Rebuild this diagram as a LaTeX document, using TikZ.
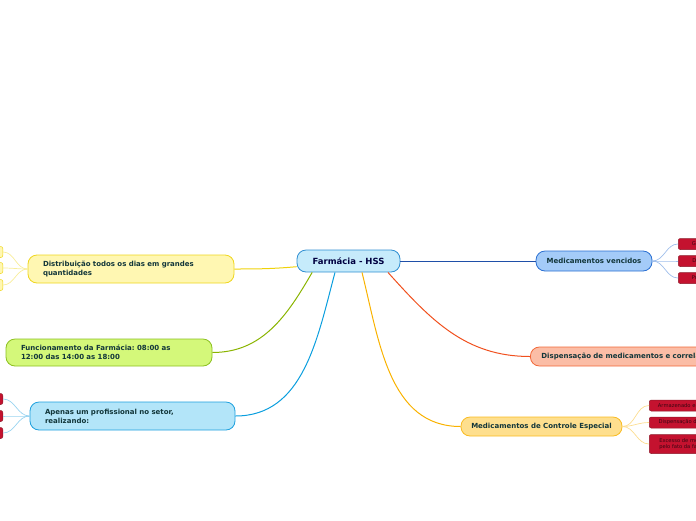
\documentclass[tikz,border=0pt]{standalone}
\usepackage{fontspec}
\setmainfont{DejaVu Sans}
\usetikzlibrary{calc}
\frenchspacing

\definecolor{txtdark}{HTML}{12363A}
\definecolor{leaftxt}{HTML}{3A0612}
\definecolor{leafred}{HTML}{C4122F}
\definecolor{leafedge}{HTML}{8E1A2A}
% topic colours
\definecolor{hssfill}{HTML}{C6EBFB}\definecolor{hssedge}{HTML}{2F8FD2}
\definecolor{vencfill}{HTML}{A4CBF8}\definecolor{vencedge}{HTML}{2A6FD2}\definecolor{vencline}{HTML}{1F4FA8}
\definecolor{dispfill}{HTML}{FBBDA6}\definecolor{dispedge}{HTML}{F2693A}\definecolor{displine}{HTML}{F0501E}
\definecolor{ctrlfill}{HTML}{FEDF8E}\definecolor{ctrledge}{HTML}{F9BB22}\definecolor{ctrlline}{HTML}{F9B200}
\definecolor{distfill}{HTML}{FFF7B2}\definecolor{distedge}{HTML}{EFD61E}\definecolor{distline}{HTML}{EFD20A}
\definecolor{funcfill}{HTML}{D4F87A}\definecolor{funcedge}{HTML}{8CC020}\definecolor{funcline}{HTML}{8AB400}
\definecolor{apenfill}{HTML}{B3E5F9}\definecolor{apenedge}{HTML}{1DA0DE}\definecolor{apenline}{HTML}{0A9EDE}

\begin{document}
\begin{tikzpicture}[x=1pt,y=-1pt,
  topic/.style={draw,rounded corners=9pt,line width=0.8pt,text=txtdark,
    font=\bfseries\fontsize{7}{9}\selectfont,inner sep=0pt},
  leaf/.style={draw=leafedge,fill=leafred,rounded corners=2pt,line width=0.5pt,
    text=leaftxt,font=\fontsize{5.2}{6.2}\selectfont,inner xsep=4pt,inner ysep=0pt,
    minimum height=11pt,align=left},
  pale/.style={draw=distedge,fill=distfill,rounded corners=2pt,line width=0.5pt,
    minimum height=11pt,minimum width=30pt,inner sep=0pt},
  branch/.style={line width=1pt},
  twig/.style={line width=0.7pt}]
\useasboundingbox (0,0) rectangle (696,520);
\clip (0,0) rectangle (696,520);

% central topic
\node[topic,fill=hssfill,draw=hssedge,minimum width=103pt,minimum height=22pt,
  font=\bfseries\fontsize{8.5}{10}\selectfont,text=blue!25!black] (hss) at (348.5,261) {Farmácia - HSS};

% main topics
\node[topic,fill=vencfill,draw=vencedge,minimum width=116pt,minimum height=20pt] (venc) at (594,261) {Medicamentos vencidos};
\node[topic,fill=dispfill,draw=dispedge,anchor=west,minimum width=200pt,minimum height=19pt,
  text width=178pt,inner xsep=11pt,align=left] (disp) at (530,356.5) {Dispensação de medicamentos e correla};
\node[topic,fill=ctrlfill,draw=ctrledge,minimum width=161pt,minimum height=19pt] (ctrl) at (541.5,426.5) {Medicamentos de Controle Especial};
\node[topic,fill=distfill,draw=distedge,minimum width=206pt,minimum height=28pt,
  text width=176pt,inner xsep=15pt,align=left] (dist) at (131,269) {Distribuição todos os dias em grandes\\quantidades};
\node[topic,fill=funcfill,draw=funcedge,minimum width=206pt,minimum height=27pt,
  text width=176pt,inner xsep=15pt,align=left] (func) at (109,352.5) {Funcionamento da Farmácia: 08:00 as\\12:00 das 14:00 as 18:00};
\node[topic,fill=apenfill,draw=apenedge,minimum width=205pt,minimum height=28pt,
  text width=175pt,inner xsep=15pt,align=left] (apen) at (132.5,416) {Apenas um profissional no setor,\\realizando:};

% leaves
\node[leaf,anchor=west,minimum width=40pt] (v1) at (678,244) {Gran};
\node[leaf,anchor=west,minimum width=40pt] (v2) at (678,261) {Devi};
\node[leaf,anchor=west,minimum width=40pt] (v3) at (678,278) {Preju};
\node[leaf,anchor=west,minimum width=60pt] (c1) at (649,405.5) {Armazenado em};
\node[leaf,anchor=west,minimum width=60pt] (c2) at (649,422.5) {Dispensação de};
\node[leaf,anchor=west,minimum width=60pt,minimum height=19pt] (c3) at (649,444) {Excesso de me\\pelo fato da far};
\node[pale,anchor=east] (d1) at (3,252) {};
\node[pale,anchor=east] (d2) at (3,268) {};
\node[pale,anchor=east] (d3) at (3,285) {};
\node[leaf,anchor=east,minimum width=30pt] (a1) at (3,399) {};
\node[leaf,anchor=east,minimum width=30pt] (a2) at (3,416) {};
\node[leaf,anchor=east,minimum width=30pt] (a3) at (3,433) {};

% branches
\draw[branch,draw=vencline] (hss.east) -- (venc.west);
\draw[branch,draw=displine] ($(hss.south west)!0.88!(hss.south east)$) to[out=-48,in=180] (disp.west);
\draw[branch,draw=ctrlline] ($(hss.south west)!0.63!(hss.south east)$) to[out=-76,in=180] (ctrl.west);
\draw[branch,draw=distline] ($(hss.south west)!0.25!(hss.north west)$) to[out=185,in=0] (dist.east);
\draw[branch,draw=funcline] ($(hss.south west)!0.15!(hss.south east)$) to[out=-120,in=0] (func.east);
\draw[branch,draw=apenline] ($(hss.south west)!0.37!(hss.south east)$) to[out=-105,in=0] (apen.east);

% twigs
\foreach \n in {v1,v2,v3}
  \draw[twig,draw=vencedge!45] (venc.east) to[out=0,in=180] (\n.west);
\foreach \n in {c1,c2,c3}
  \draw[twig,draw=ctrledge!50] (ctrl.east) to[out=0,in=180] (\n.west);
\foreach \n in {d1,d2,d3}
  \draw[twig,draw=distedge!45] (dist.west) to[out=180,in=0] (\n.east);
\foreach \n in {a1,a2,a3}
  \draw[twig,draw=apenedge!45] (apen.west) to[out=180,in=0] (\n.east);
\end{tikzpicture}
\end{document}
